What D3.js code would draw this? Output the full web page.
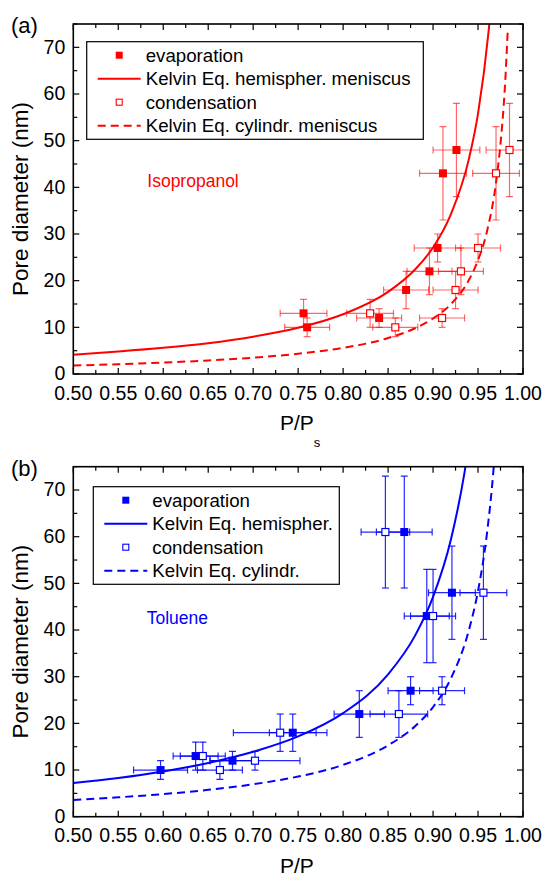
<!DOCTYPE html>
<html>
<head>
<meta charset="utf-8">
<script src="https://cdn.jsdelivr.net/npm/d3@7"></script>
<style>
  body { margin: 0; background: #fff; }
  text { font-family: "Liberation Sans", Arial, sans-serif; }
</style>
</head>
<body>
<div id="chart"></div>
<script>
// axis ticks
var pMajor = [0.50, 0.55, 0.60, 0.65, 0.70, 0.75, 0.80, 0.85, 0.90, 0.95, 1.00];
var dMajor = [0, 10, 20, 30, 40, 50, 60, 70];

// (a) isopropanol: [P/Ps, diameter, P error, diameter error]
var isoEvap = [
  [0.756, 13, 0.026, 3], [0.760, 10, 0.025, 2], [0.840, 12, 0.025, 2],
  [0.870, 18, 0.025, 4], [0.896, 22, 0.025, 5], [0.905, 27, 0.026, 3],
  [0.911, 43, 0.026, 10], [0.926, 48, 0.026, 10]
];
var isoCond = [
  [0.830, 13, 0.026, 3], [0.858, 10, 0.025, 2], [0.910, 12, 0.025, 2],
  [0.925, 18, 0.025, 4], [0.931, 22, 0.025, 5], [0.950, 27, 0.025, 3],
  [0.970, 43, 0.026, 10], [0.985, 48, 0.026, 10]
];
// Kelvin curves: [P/Ps, diameter]
var isoHemi = [
  [0.50, 4.1], [0.55, 4.8], [0.60, 5.6], [0.65, 6.6], [0.70, 8.0], [0.75, 9.9],
  [0.80, 12.8], [0.85, 17.6], [0.88, 22.4], [0.90, 27.1], [0.92, 34.3],
  [0.94, 46.2], [0.95, 55.8], [0.962, 73.9], [0.964, 78]
];
var isoCyl = [
  [0.50, 1.8], [0.55, 2.1], [0.60, 2.45], [0.65, 2.9], [0.70, 3.5], [0.75, 4.35],
  [0.80, 5.6], [0.85, 7.7], [0.88, 9.8], [0.90, 11.9], [0.92, 15.0], [0.94, 20.2],
  [0.95, 24.4], [0.96, 30.6], [0.97, 41.0], [0.975, 49.4], [0.98, 61.9], [0.983, 73.5]
];

// (b) toluene
var tolEvap = [
  [0.597, 10, 0.030, 2], [0.636, 13, 0.025, 3], [0.677, 12, 0.025, 2],
  [0.744, 18, 0.026, 4], [0.818, 22, 0.028, 5], [0.875, 27, 0.025, 3],
  [0.893, 43, 0.025, 10], [0.921, 48, 0.026, 10], [0.868, 61, 0.031, 12]
];
var tolCond = [
  [0.644, 13, 0.025, 3], [0.663, 10, 0.025, 2], [0.702, 12, 0.050, 2],
  [0.730, 18, 0.052, 4], [0.862, 22, 0.032, 5], [0.910, 27, 0.025, 3],
  [0.900, 43, 0.025, 10], [0.956, 48, 0.026, 10], [0.847, 61, 0.027, 12]
];
var tolHemi = [
  [0.50, 7.2], [0.55, 8.3], [0.60, 9.7], [0.65, 11.5], [0.70, 13.9], [0.75, 17.2],
  [0.80, 22.2], [0.85, 30.5], [0.88, 38.8], [0.90, 47.1], [0.92, 59.5],
  [0.935, 73.8], [0.937, 76.2]
];
var tolCyl = [
  [0.50, 3.6], [0.55, 4.15], [0.60, 4.85], [0.65, 5.75], [0.70, 6.95], [0.75, 8.6],
  [0.80, 11.1], [0.85, 15.3], [0.88, 19.4], [0.90, 23.5], [0.92, 29.7],
  [0.94, 40.1], [0.95, 48.4], [0.96, 60.8], [0.967, 73.9], [0.968, 76.3]
];

var isoLegend = ["evaporation", "Kelvin Eq. hemispher. meniscus", "condensation", "Kelvin Eq. cylindr. meniscus"];
var tolLegend = ["evaporation", "Kelvin Eq. hemispher.", "condensation", "Kelvin Eq. cylindr."];

var width = 542, height = 883;
var left = 73.3, right = 523;

var svg = d3.select("#chart").append("svg")
  .attr("width", width)
  .attr("height", height);

var x = d3.scaleLinear().domain([0.5, 1.0]).range([left, right]);

function drawPanel(cfg) {
  var top = cfg.top, bottom = cfg.top + 350;
  var y = d3.scaleLinear().domain([0, 75]).range([bottom, top]);
  var g = svg.append("g");

  var clipId = "clip" + cfg.id;
  svg.append("clipPath").attr("id", clipId)
    .append("rect")
      .attr("x", left).attr("y", top)
      .attr("width", right - left).attr("height", bottom - top);

  var plot = g.append("g").attr("clip-path", "url(#" + clipId + ")");

  var line = d3.line()
    .x(function(d) { return x(d[0]); })
    .y(function(d) { return y(d[1]); })
    .curve(d3.curveMonotoneX);

  plot.append("path").datum(cfg.hemi)
    .attr("d", line).attr("fill", "none")
    .attr("stroke", cfg.color).attr("stroke-width", 2);
  plot.append("path").datum(cfg.cyl)
    .attr("d", line).attr("fill", "none")
    .attr("stroke", cfg.color).attr("stroke-width", 2)
    .attr("stroke-dasharray", "8,5");

  // error bars
  var bars = plot.append("g")
    .attr("stroke", cfg.color)
    .attr("stroke-width", 1.2)
    .attr("stroke-opacity", cfg.barOpacity);
  cfg.evap.concat(cfg.cond).forEach(function(d) {
    var cx = x(d[0]), cy = y(d[1]);
    var x0 = x(d[0] - d[2]), x1 = x(d[0] + d[2]);
    var y0 = y(d[1] - d[3]), y1 = y(d[1] + d[3]);
    bars.append("line").attr("x1", x0).attr("x2", x1).attr("y1", cy).attr("y2", cy);
    bars.append("line").attr("x1", x0).attr("x2", x0).attr("y1", cy - 3.5).attr("y2", cy + 3.5);
    bars.append("line").attr("x1", x1).attr("x2", x1).attr("y1", cy - 3.5).attr("y2", cy + 3.5);
    bars.append("line").attr("x1", cx).attr("x2", cx).attr("y1", y0).attr("y2", y1);
    bars.append("line").attr("x1", cx - 3.5).attr("x2", cx + 3.5).attr("y1", y0).attr("y2", y0);
    bars.append("line").attr("x1", cx - 3.5).attr("x2", cx + 3.5).attr("y1", y1).attr("y2", y1);
  });

  plot.selectAll(".evap").data(cfg.evap).enter().append("rect")
    .attr("x", function(d) { return x(d[0]) - 4; })
    .attr("y", function(d) { return y(d[1]) - 4; })
    .attr("width", 8).attr("height", 8)
    .attr("fill", cfg.color);
  plot.selectAll(".cond").data(cfg.cond).enter().append("rect")
    .attr("x", function(d) { return x(d[0]) - 3.5; })
    .attr("y", function(d) { return y(d[1]) - 3.5; })
    .attr("width", 7).attr("height", 7)
    .attr("fill", "#fff").attr("stroke", cfg.color).attr("stroke-width", 1.2);

  // ticks, inward on all four sides
  var pMinor = d3.range(0.525, 1.0, 0.05);
  var dMinor = [5, 15, 25, 35, 45, 55, 65, 75];
  var tk = g.append("g").attr("stroke", "#000").attr("stroke-width", 1.2);
  pMajor.forEach(function(v) {
    tk.append("line").attr("x1", x(v)).attr("x2", x(v)).attr("y1", bottom).attr("y2", bottom - 6);
    tk.append("line").attr("x1", x(v)).attr("x2", x(v)).attr("y1", top).attr("y2", top + 6);
  });
  pMinor.forEach(function(v) {
    tk.append("line").attr("x1", x(v)).attr("x2", x(v)).attr("y1", bottom).attr("y2", bottom - 4);
    tk.append("line").attr("x1", x(v)).attr("x2", x(v)).attr("y1", top).attr("y2", top + 4);
  });
  dMajor.forEach(function(v) {
    tk.append("line").attr("x1", left).attr("x2", left + 6).attr("y1", y(v)).attr("y2", y(v));
    tk.append("line").attr("x1", right).attr("x2", right - 6).attr("y1", y(v)).attr("y2", y(v));
  });
  dMinor.forEach(function(v) {
    tk.append("line").attr("x1", left).attr("x2", left + 4).attr("y1", y(v)).attr("y2", y(v));
    tk.append("line").attr("x1", right).attr("x2", right - 4).attr("y1", y(v)).attr("y2", y(v));
  });

  g.append("rect")
    .attr("x", left).attr("y", top)
    .attr("width", right - left).attr("height", bottom - top)
    .attr("fill", "none").attr("stroke", "#000").attr("stroke-width", 1.6);

  // tick labels
  g.selectAll(".xl").data(pMajor).enter().append("text")
    .attr("x", function(d) { return x(d); })
    .attr("y", bottom + 25.5)
    .attr("text-anchor", "middle")
    .style("font-size", "19.5px")
    .text(function(d) { return d3.format(".2f")(d); });
  g.selectAll(".yl").data(dMajor).enter().append("text")
    .attr("x", left - 8)
    .attr("y", function(d) { return y(d); })
    .attr("dy", "0.33em")
    .attr("text-anchor", "end")
    .style("font-size", "19.5px")
    .text(function(d) { return d; });

  // axis titles
  g.append("text")
    .attr("transform", "translate(28," + (top + 175) + ") rotate(-90)")
    .attr("text-anchor", "middle")
    .style("font-size", "22.5px")
    .text("Pore diameter (nm)");
  var xt = g.append("text")
    .attr("x", 280).attr("y", bottom + 56)
    .style("font-size", "21px");
  xt.append("tspan").text("P/P");
  xt.append("tspan").attr("dy", 17).style("font-size", "13px").text("s");

  g.append("text")
    .attr("x", 11).attr("y", top + 9)
    .style("font-size", "22px")
    .text(cfg.tag);

  g.append("text")
    .attr("x", cfg.nameX).attr("y", cfg.nameY)
    .attr("fill", cfg.color)
    .style("font-size", "17.5px")
    .text(cfg.name);

  // legend
  var lb = cfg.legendBox;
  var lg = g.append("g");
  lg.append("rect")
    .attr("x", lb[0]).attr("y", lb[1]).attr("width", lb[2]).attr("height", lb[3])
    .attr("fill", "#fff").attr("stroke", "#000").attr("stroke-width", 1.2);
  cfg.legend.forEach(function(t, i) {
    var ry = lb[1] + 13.5 + i * 23.5;
    var sx = lb[0] + 32.5;
    if (i === 0) {
      lg.append("rect").attr("x", sx - 3.5).attr("y", ry - 3.5).attr("width", 7).attr("height", 7)
        .attr("fill", cfg.color);
    } else if (i === 2) {
      lg.append("rect").attr("x", sx - 3).attr("y", ry - 3).attr("width", 6).attr("height", 6)
        .attr("fill", "#fff").attr("stroke", cfg.color).attr("stroke-width", 1.1);
    } else {
      lg.append("line").attr("x1", lb[0] + 11).attr("x2", lb[0] + 54)
        .attr("y1", ry).attr("y2", ry)
        .attr("stroke", cfg.color).attr("stroke-width", 2)
        .attr("stroke-dasharray", i === 3 ? "8,5" : null);
    }
    lg.append("text")
      .attr("x", lb[0] + 59).attr("y", ry).attr("dy", "0.35em")
      .style("font-size", "18.7px")
      .text(t);
  });
}

drawPanel({
  id: "a", tag: "(a)", top: 24, color: "#ff0000", barOpacity: 0.6,
  evap: isoEvap, cond: isoCond, hemi: isoHemi, cyl: isoCyl,
  legend: isoLegend, legendBox: [86.7, 41.7, 336.6, 97.6],
  name: "Isopropanol", nameX: 147.3, nameY: 187
});

drawPanel({
  id: "b", tag: "(b)", top: 466.7, color: "#0000ff", barOpacity: 0.85,
  evap: tolEvap, cond: tolCond, hemi: tolHemi, cyl: tolCyl,
  legend: tolLegend, legendBox: [93.3, 486.7, 246, 97.6],
  name: "Toluene", nameX: 146.7, nameY: 624
});
</script>
</body>
</html>
